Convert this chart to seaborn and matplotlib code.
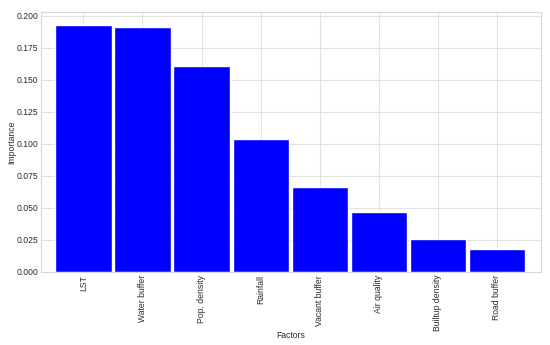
import matplotlib
matplotlib.use("Agg")
import matplotlib.pyplot as plt
import pandas as pd
import seaborn as sns

# 数据
factors = ["LST", "Water buffer", "Pop. density", "Rainfall", "Vacant buffer",
           "Air quality", "Builtup density", "Road buffer"]
importance = [0.193, 0.191, 0.161, 0.104, 0.0664, 0.0466, 0.026, 0.018]

df = pd.DataFrame({"Factors": factors, "Importance": importance})

sns.set_theme(style="whitegrid")
plt.rcParams['font.family'] = ['Liberation Sans', 'DejaVu Sans']
plt.rcParams['font.size'] = 6.2

fig = plt.figure(figsize=(5.5, 3.45), dpi=100)
ax = fig.add_axes([0.0745, 0.2116, 0.909, 0.7534])

# 绘制条形图
sns.barplot(data=df, x="Factors", y="Importance", color="blue", saturation=1,
            width=0.95, ax=ax)

ax.set_xlim(-0.72, 7.75)
ax.set_ylim(0, 0.203)
ax.set_yticks([0, 0.025, 0.05, 0.075, 0.1, 0.125, 0.15, 0.175, 0.2])
ax.set_yticklabels([f"{v:.3f}" for v in ax.get_yticks()], fontsize=6.2, color="#2a2a2a")
ax.tick_params(axis="x", labelrotation=90, labelsize=6.2, labelcolor="#2a2a2a", pad=2, length=0)
ax.tick_params(axis="y", pad=2, length=0)
ax.set_xlabel("Factors", fontsize=6.2, color="#2a2a2a", labelpad=0)
ax.set_ylabel("Importance", fontsize=6.2, color="#2a2a2a", labelpad=0)

ax.grid(True, color="#e2e2e2", linewidth=0.8)
for s in ax.spines.values():
    s.set_color("#d8d8d8")
    s.set_linewidth(0.8)

fig.savefig("out.png", dpi=100)
